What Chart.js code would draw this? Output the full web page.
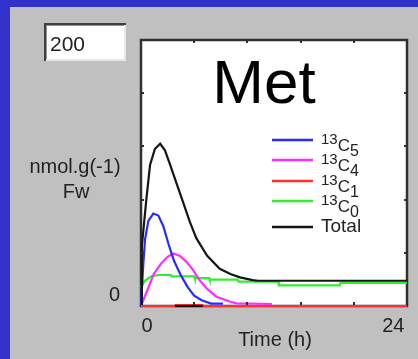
<!DOCTYPE html>
<html>
<head>
<meta charset="utf-8">
<script src="https://cdn.jsdelivr.net/npm/chart.js@4/dist/chart.umd.min.js"></script>
<style>
  html, body { margin: 0; padding: 0; background: #c0c0c0; overflow: hidden; }
  canvas { position: absolute; left: 0; top: 0; }
</style>
</head>
<body>
<canvas id="c" width="418" height="359"></canvas>
<script>
// Methionine labelling time course, nmol.g(-1) fresh weight vs time (h)
const xTickLabels = ['0', '24'];
const yTickLabels = ['0'];
const yMaxInput = '200';

const totalT = [0, 0.08, 0.2, 0.5, 0.85, 1.3, 1.8, 2.25, 2.7, 3.35, 4.0, 4.6, 5.2, 6.2, 7.4, 8.4, 9.3, 10.5, 11.0, 25];
const totalV = [0, 45, 55, 80, 106, 118, 122, 117, 107, 92, 77, 63, 51, 38, 28, 24, 21.5, 19.5, 19, 19];

const c5T = [0, 0.1, 0.22, 0.38, 0.69, 1.16, 1.63, 2.1, 2.57, 3.1, 3.75, 4.4, 5.0, 5.7, 6.6, 7.7];
const c5V = [0, 15, 32, 50, 64, 69.5, 68, 60, 47, 34, 23, 14, 7.8, 4.3, 1.8, 1.8];

const c4T = [0, 0.6, 1.2, 1.9, 2.5, 3.04, 3.67, 4.3, 4.9, 5.5, 6.2, 7.1, 8.4, 9.0, 12.3];
const c4V = [0, 12, 24, 32, 37, 39.5, 37.6, 33, 27, 19.5, 13, 7, 3.2, 2, 1.5];

const c1T = [0, 3.2, 3.25, 5.8, 5.85, 25];
const c1V = [0, 0, 0.6, 0.6, 0, 0];

const c0T = [0, 0.35, 0.97, 1.6, 2.8, 2.85, 5.0, 5.05, 6.4, 6.45, 9.1, 9.15, 12.9, 12.95, 18.7, 18.75, 25];
const c0V = [14, 19, 22.3, 23.3, 23.3, 22.3, 22.3, 21, 21, 19.8, 19.8, 18.4, 18.4, 15.5, 15.5, 17.4, 17.4];

const extraT = [3.2, 5.8];
const extraV = [0, 0];

const seriesNames = ['5', '4', '1', '0'];
const seriesColors = ['#2a2aff', '#ff2cff', '#ff3030', '#30ee30'];
const totalColor = '#161616';

function pts(ts, vs) { return ts.map((t, i) => ({ x: t, y: vs[i] })); }

const FONT = '"Liberation Sans", Arial, sans-serif';

const framePlugin = {
  id: 'frame',
  beforeDraw(chart) {
    const ctx = chart.ctx, a = chart.chartArea;
    ctx.save();
    ctx.fillStyle = '#c0c0c0';
    ctx.fillRect(0, 0, chart.width, chart.height);
    ctx.fillStyle = '#3331cc';
    ctx.fillRect(0, 0, chart.width, 7);
    ctx.fillRect(0, 0, 10, chart.height);
    ctx.fillStyle = '#ffffff';
    ctx.fillRect(a.left, a.top, a.right - a.left, a.bottom - a.top);

    // input field
    ctx.fillStyle = '#ffffff';
    ctx.fillRect(44, 23, 82, 38);
    ctx.fillStyle = '#e8e8e8';
    ctx.fillRect(44, 59, 82, 2);
    ctx.fillRect(124, 23, 2, 38);
    ctx.fillStyle = '#404040';
    ctx.fillRect(44, 23, 82, 2);
    ctx.fillRect(44, 23, 2, 38);
    ctx.fillStyle = '#909090';
    ctx.fillRect(46, 25, 78, 1);
    ctx.fillRect(46, 25, 1, 34);
    ctx.fillStyle = '#222';
    ctx.font = '21px ' + FONT;
    ctx.textAlign = 'left';
    ctx.textBaseline = 'alphabetic';
    ctx.fillText(yMaxInput, 50, 51);

    // frame of the plot box
    ctx.strokeStyle = '#303030';
    ctx.lineWidth = 2.5;
    ctx.strokeRect(a.left, a.top, a.right - a.left, a.bottom - a.top);

    // texts
    ctx.fillStyle = '#000';
    ctx.textAlign = 'center';
    ctx.font = '62px ' + FONT;
    ctx.fillText('Met', 264, 103);

    ctx.fillStyle = '#222';
    ctx.font = '20px ' + FONT;
    ctx.fillText('nmol.g(-1)', 75, 173);
    ctx.fillText('Fw', 76, 198);

    ctx.textAlign = 'right';
    ctx.fillText(yTickLabels[0], 120, 301);

    const xs = chart.scales.x;
    ctx.textAlign = 'center';
    ctx.fillText(xTickLabels[0], xs.getPixelForValue(0) + 6, 332);
    ctx.fillText(xTickLabels[1], xs.getPixelForValue(24) - 3, 332);
    ctx.fillText('Time (h)', 275, 346);
    ctx.restore();
  },
  afterDatasetsDraw(chart) {
    const ctx = chart.ctx, a = chart.chartArea;
    const xs = chart.scales.x, ys = chart.scales.y;
    ctx.save();
    ctx.strokeStyle = '#303030';
    ctx.lineWidth = 2;
    ctx.beginPath();
    [5, 10, 15, 20].forEach(v => {
      const px = Math.round(xs.getPixelForValue(v));
      ctx.moveTo(px, a.top); ctx.lineTo(px, a.top + 3);
      ctx.moveTo(px, a.bottom - 1); ctx.lineTo(px, a.bottom - 4);
    });
    [40, 80, 120, 160].forEach(v => {
      const py = Math.round(ys.getPixelForValue(v));
      ctx.moveTo(a.left, py); ctx.lineTo(a.left + 3, py);
      ctx.moveTo(a.right, py); ctx.lineTo(a.right - 3, py);
    });
    ctx.stroke();

    // legend: isotopomer labels written as superscript 13, C, subscript count
    const rows = [140, 160, 181, 201];
    ctx.lineWidth = 2.5;
    ctx.textAlign = 'left';
    rows.forEach((y, i) => {
      ctx.strokeStyle = seriesColors[i];
      ctx.beginPath(); ctx.moveTo(272, y); ctx.lineTo(313, y); ctx.stroke();
      ctx.fillStyle = '#222';
      let x = 321;
      ctx.font = '15px ' + FONT;
      ctx.fillText('13', x, y + 4);
      x += ctx.measureText('13').width;
      ctx.font = '17px ' + FONT;
      ctx.fillText('C', x, y + 11);
      x += ctx.measureText('C').width;
      ctx.font = '16px ' + FONT;
      ctx.fillText(seriesNames[i], x, y + 16);
    });
    ctx.strokeStyle = totalColor;
    ctx.beginPath(); ctx.moveTo(272, 227); ctx.lineTo(313, 227); ctx.stroke();
    ctx.fillStyle = '#222';
    ctx.font = '19px ' + FONT;
    ctx.fillText('Total', 321, 232);
    ctx.restore();
  }
};

const mk = (label, ts, vs, color, order) => ({
  label, data: pts(ts, vs), borderColor: color, borderWidth: 2.2,
  pointRadius: 0, tension: 0, fill: false, order, clip: 4
});

new Chart(document.getElementById('c'), {
  type: 'line',
  data: {
    datasets: [
      mk('13C0', c0T, c0V, seriesColors[3], 6),
      mk('13C4', c4T, c4V, seriesColors[1], 5),
      mk('13C5', c5T, c5V, seriesColors[0], 4),
      mk('Total', totalT, totalV, totalColor, 3),
      mk('13C1', c1T, c1V, seriesColors[2], 2),
      mk('', extraT, extraV, '#1a0a0a', 1)
    ]
  },
  options: {
    responsive: false,
    animation: false,
    devicePixelRatio: 1,
    layout: { padding: { left: 141, right: 11, top: 40, bottom: 53 } },
    scales: {
      x: { type: 'linear', min: 0, max: 25, display: false },
      y: { type: 'linear', min: 0, max: 200, display: false }
    },
    plugins: { legend: { display: false }, tooltip: { enabled: false } }
  },
  plugins: [framePlugin]
});
</script>
</body>
</html>
